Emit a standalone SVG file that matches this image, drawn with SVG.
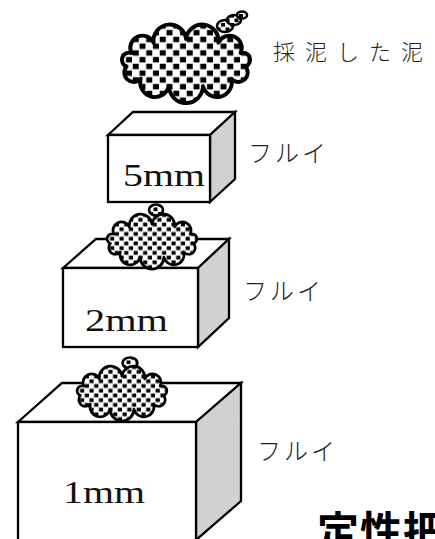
<svg xmlns="http://www.w3.org/2000/svg" width="435" height="539" viewBox="0 0 435 539">
  <style>
    .edge { fill: #ffffff; stroke: #000000; stroke-width: 2.3; stroke-linejoin: miter; }
    .side { fill: #d1d1d1; stroke: #000000; stroke-width: 2.3; stroke-linejoin: miter; }
    .size { font-family: "Liberation Serif", serif; font-size: 32px; fill: #111111; }
    .label { font-family: "Noto Sans CJK JP", sans-serif; font-weight: 300; fill: #222222; }
    .mud { fill: url(#confetti); stroke: #000000; stroke-width: 2.6; stroke-linejoin: round; }
    .title { font-family: "Noto Sans CJK JP", sans-serif; font-weight: 700; font-size: 42px; fill: #000000; }
  </style>
  <defs>
    <!-- confetti fill used for the mud clouds -->
    <pattern id="confetti" patternUnits="userSpaceOnUse" width="9" height="9">
      <rect width="9" height="9" fill="#ffffff"/>
      <rect x="0.5" y="0.5" width="4" height="3.6" fill="#000000"/>
      <rect x="5" y="5" width="4" height="3.6" fill="#000000"/>
    </pattern>
    <!-- scalloped cloud outline centred on the origin -->
    <path id="cloud" d="M0,-16 A1,1 0 0 1 21.6,-13.5 A1,1 0 0 1 36.4,-6.6 A1,1 0 0 1 39.6,2.3 A1,1 0 0 1 30.2,10.5 A1,1 0 0 1 11.3,15.4 A1,1 0 0 1 -11.3,15.4 A1,1 0 0 1 -30.2,10.5 A1,1 0 0 1 -39.6,2.3 A1,1 0 0 1 -36.4,-6.6 A1,1 0 0 1 -21.6,-13.5 A1,1 0 0 1 0,-16 Z"/>
  </defs>

  <!-- sieve 5mm -->
  <g id="sieve-5mm">
    <polygon class="edge" points="108,135 133,112 235,112 210,135"/>
    <polygon class="side" points="210,135 235,112 235,179 210,202"/>
    <rect class="edge" x="108" y="135" width="102" height="67"/>
    <text class="size" x="123" y="186" textLength="82" lengthAdjust="spacingAndGlyphs">5mm</text>
  </g>

  <!-- sieve 2mm -->
  <g id="sieve-2mm">
    <polygon class="edge" points="63,268 96,239 229,239 198,268"/>
    <polygon class="side" points="198,268 229,239 229,318 198,347"/>
    <rect class="edge" x="63" y="268" width="135" height="79"/>
    <text class="size" x="85" y="331" textLength="83" lengthAdjust="spacingAndGlyphs">2mm</text>
  </g>

  <!-- sieve 1mm -->
  <g id="sieve-1mm">
    <polygon class="edge" points="18,422 62,383 241,383 196,422"/>
    <polygon class="side" points="196,422 241,383 241,501 196,540"/>
    <rect class="edge" x="18" y="422" width="178" height="130"/>
    <text class="size" x="63" y="503" textLength="82" lengthAdjust="spacingAndGlyphs">1mm</text>
  </g>

  <!-- collected mud -->
  <g id="mud-top">
    <ellipse class="mud" cx="225" cy="26" rx="8" ry="6"/>
    <ellipse class="mud" cx="234" cy="20" rx="7" ry="5"/>
    <ellipse class="mud" cx="242" cy="15" rx="5" ry="3.5"/>
    <use href="#cloud" class="mud" transform="translate(186,63) scale(1.5)"/>
  </g>

  <!-- mud retained on the 2mm sieve -->
  <g id="mud-2mm">
    <ellipse class="mud" cx="156" cy="210" rx="7" ry="5.5"/>
    <use href="#cloud" class="mud" transform="translate(152,241) scale(1.05)"/>
  </g>

  <!-- mud retained on the 1mm sieve -->
  <g id="mud-1mm">
    <ellipse class="mud" cx="130" cy="363" rx="7.5" ry="5.5"/>
    <use href="#cloud" class="mud" transform="translate(122,393) scale(1.05)"/>
  </g>

  <!-- labels -->
  <g id="labels">
    <text class="label" x="273" y="60" font-size="22" letter-spacing="10">採泥した泥</text>
    <text class="label" x="248" y="162" font-size="24" letter-spacing="3">フルイ</text>
    <text class="label" x="243" y="300" font-size="24" letter-spacing="3">フルイ</text>
    <text class="label" x="257" y="460" font-size="24" letter-spacing="3">フルイ</text>
    <text class="title" x="317" y="547" letter-spacing="1">定性把</text>
  </g>
</svg>
